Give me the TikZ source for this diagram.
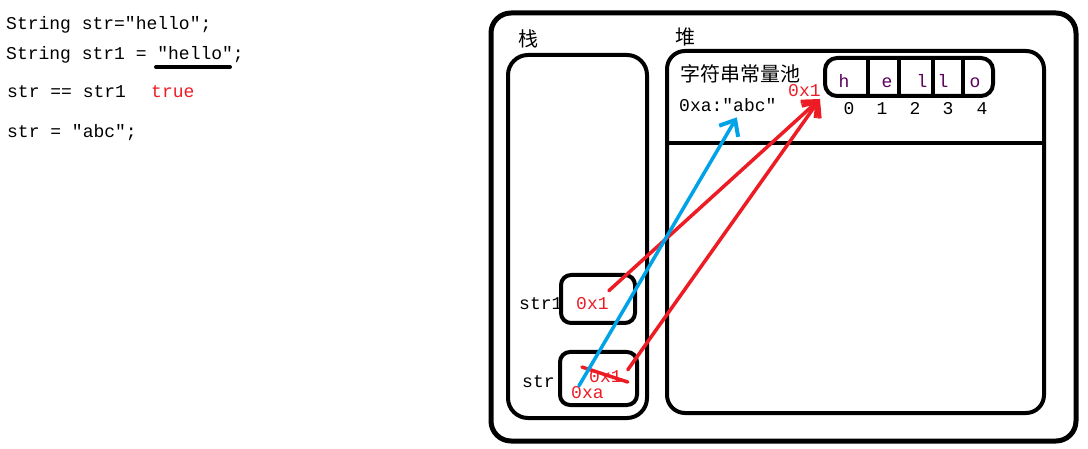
\documentclass[tikz,border=0pt]{standalone}
\usepackage{fontspec}
\setmonofont{Liberation Mono}
\newfontfamily\cjk{Noto Sans CJK SC}
\usepackage{tikz}
\usetikzlibrary{arrows.meta, positioning}
\definecolor{markred}{RGB}{237,28,36}
\definecolor{markblue}{RGB}{0,162,232}
\definecolor{letter}{RGB}{90,0,90}

\begin{document}
\begin{tikzpicture}[
    x=1pt, y=-1pt,
    code/.style={anchor=base west, inner sep=0pt, font=\ttfamily\fontsize{18}{20}\selectfont},
    hanzi/.style={inner sep=0pt, font=\cjk\fontsize{20}{22}\selectfont},
    frame/.style={draw, line width=#1, rounded corners=20pt, inner sep=0pt},
    cell/.style={draw, line width=4pt, rounded corners=10pt, inner sep=0pt},
    ptr/.style={line width=3.5pt, line cap=round, draw=#1,
        -{Straight Barb[length=13pt, width=22pt, line width=4pt]}}
]
    \useasboundingbox (0,0) rectangle (1088,449);

    % source lines
    \node[code] (line1) at (6,30) {String str="hello";};
    \node[code] (line2) at (6,60) {String str1 = "hello";};
    \draw[line width=4pt, line cap=round] (156,67) -- (230,67);
    \node[code] (line3) at (7,98) {str == str1};
    \node[code, text=markred] (result) at (151,98) {true};
    \node[code] (line4) at (7,138) {str = "abc";};

    % memory
    \node[frame=5pt, minimum width=585pt, minimum height=428pt] (memory) at (783.5,227) {};
    \node[frame=4pt, minimum width=139pt, minimum height=363pt] (stack) at (577.5,236.5) {};
    \node[frame=4pt, minimum width=377pt, minimum height=362pt, rounded corners=18pt] (heap) at (855.5,232) {};
    \node[hanzi] (stacklabel) at (528,39) {栈};
    \node[hanzi] (heaplabel) at (685,37) {堆};
    \coordinate (poolsep) at (0,143);
    \draw[line width=4pt] (heap.west |- poolsep) -- (heap.east |- poolsep);
    \node[hanzi, anchor=west] (pool) at (680,74) {字符串常量池};
    \node[code] (poolabc) at (679,112) {0xa:"abc"};
    \node[code, text=markred] (pooladdr) at (788,97) {0x1};

    % char array
    \node[cell, rounded corners=12pt, minimum width=168pt, minimum height=38pt] (arr) at (909,77) {};
    \foreach \x in {868,899,933,963}
        \draw[line width=4pt] (\x,0 |- arr.north) -- (\x,0 |- arr.south);
    \foreach \c/\x in {h/844, e/887, l/922, l/943, o/975}
        \node[code, anchor=base, text=letter] at (\x,88) {\c};
    \foreach \i/\x in {0/849, 1/882, 2/915, 3/948, 4/982}
        \node[code, anchor=base] at (\x,115) {\i};

    % stack variables
    \node[cell, minimum width=74pt, minimum height=48pt] (str1box) at (598,299) {};
    \node[cell, minimum width=77pt, minimum height=53pt] (strbox) at (598.5,378.5) {};
    \node[code] (str1name) at (519,309) {str1};
    \node[code] (strname) at (522,387) {str};
    \node[code, text=markred] (str1val) at (576,309) {0x1};
    \node[code, text=markred] (strold) at (589,382) {0x1};
    \node[code, text=markred] (strnew) at (571,398) {0xa};
    \draw[line width=3.5pt, line cap=round, markred]
        ([shift={(-7pt,9pt)}]strold.west) -- ([shift={(6pt,-6pt)}]strold.east);

    \draw[ptr=markred] ([yshift=6pt]str1val.north east) -- ([shift={(-3pt,-1pt)}]arr.south west);
    \draw[ptr=markred] ([xshift=6pt]strold.north east) -- ([shift={(-3pt,-1pt)}]arr.south west);
    \draw[ptr=markblue] ([xshift=8pt]strnew.north west) -- ([shift={(9pt,-5pt)}]poolabc.south);
\end{tikzpicture}
\end{document}
